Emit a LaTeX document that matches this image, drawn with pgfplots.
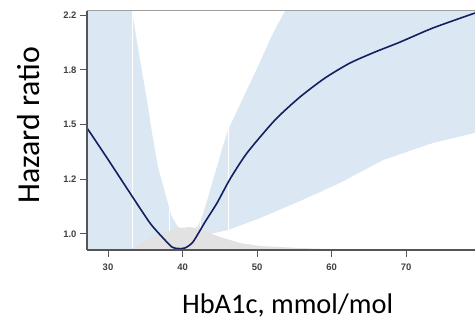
\documentclass[border=0pt]{standalone}
\usepackage{fontspec}
\usepackage{pgfplots}
\pgfplotsset{compat=1.18}
\newfontfamily\carlito{Carlito}
\newfontfamily\lsans{Liberation Sans}
\definecolor{band}{RGB}{220,231,244}
\definecolor{dens}{RGB}{226,226,226}
\definecolor{hr}{RGB}{18,32,96}
\definecolor{spine}{RGB}{85,85,85}
\begin{document}
\begin{tikzpicture}[x=1bp,y=1bp]
\useasboundingbox (0,0) rectangle (475,320);
\begin{axis}[
  name=ax,
  at={(87bp,70bp)}, anchor=south west,
  width=388bp, height=239.3bp, scale only axis,
  xmin=27.18, xmax=79.26,
  ymode=log, ymin=0.944, ymax=2.2347,
  axis x line=bottom, axis y line=left,
  axis line style={-, draw=spine, line width=1.3bp},
  axis on top,
  tick align=outside,
  major tick length=7bp,
  tick style={draw=spine, line width=1bp},
  xtick={30,40,50,60,70},
  xticklabels={30,40,50,60,70},
  ytick={1,1.2184,1.4832,1.8056,2.2},
  yticklabels={1.0,1.2,1.5,1.8,2.2},
  minor ytick={},
  /pgf/number format/assume math mode=true,
  ticklabel style={font=\lsans\bfseries\fontsize{9.5}{11}\selectfont, text=black!75},
  xticklabel style={yshift=-3bp},
  xlabel={HbA1c, mmol/mol},
  ylabel={Hazard ratio},
  every axis x label/.style={at={(axis description cs:0.517,0)}, anchor=base, yshift=-63bp, font=\carlito\fontsize{28.5}{30}\selectfont},
  every axis y label/.style={at={([xshift=-47bp]axis description cs:0,0.522)}, rotate=90, anchor=base, font=\carlito\fontsize{32}{34}\selectfont},
  clip=true,
]
% confidence band: upper bound left to right, then lower bound right to left
\addplot[draw=none, fill=band] coordinates {
 (27.0,3.0) (31.4,3.0) (33.22,2.232) (34.30,1.871) (35.23,1.620) (35.91,1.439)
 (36.71,1.273) (37.92,1.130) (38.59,1.063) (39.40,1.026) (40.47,1.018) (41.54,1.018)
 (42.08,1.030) (42.75,1.075) (43.42,1.140) (44.09,1.215) (44.77,1.290) (45.40,1.370)
 (46.11,1.454) (48.39,1.656) (50.40,1.858) (52.15,2.062) (53.76,2.232) (56.1,2.5) (80,4.0)
 (80,1.445) (79.26,1.439) (73.6,1.388) (66.91,1.305) (61.14,1.202) (55.77,1.126)
 (50.40,1.059) (46.11,1.0145) (44.36,1.004) (42.35,0.993) (41.5,0.96) (40.5,0.90)
 (35,0.85) (27,0.80)
} -- cycle;
% knot lines
\addplot[white, line width=0.7bp] coordinates {(33.2,0.8) (33.2,3)};
\addplot[white, line width=0.7bp] coordinates {(38.2,0.8) (38.2,3)};
\addplot[white, line width=0.7bp] coordinates {(42.35,0.8) (42.35,3)};
\addplot[white, line width=0.7bp] coordinates {(46.1,0.8) (46.1,3)};
% distribution density
\addplot[draw=none, fill=dens] coordinates {
 (32.0,0.9) (32.68,0.944) (33.62,0.954) (35.64,0.9857) (37.65,1.0072) (39.66,1.0218)
 (41.01,1.0255) (42.35,1.018) (43.69,1.0036) (45.03,0.9892) (46.38,0.9786)
 (47.72,0.968) (50.40,0.9577) (55.77,0.9508) (61.14,0.9457) (63.83,0.944) (65,0.9)
} -- cycle;
% hazard ratio curve
\addplot[hr, line width=1.6bp, smooth, tension=0.4] coordinates {
 (27.18,1.465) (29.87,1.315) (32.95,1.159) (35.64,1.040) (37.38,0.986)
 (38.59,0.954) (39.40,0.949) (40.34,0.951) (41.41,0.972) (43.02,1.044)
 (44.63,1.118) (46.38,1.219) (48.66,1.339) (52.42,1.508) (55.77,1.638)
 (59.13,1.754) (62.48,1.851) (65.84,1.926) (69.19,1.996) (73.62,2.100) (79.26,2.216)
};
\end{axis}
\draw[gray!75, line width=1.6bp] (ax.north west) -- (ax.north east);
\end{tikzpicture}
\end{document}
